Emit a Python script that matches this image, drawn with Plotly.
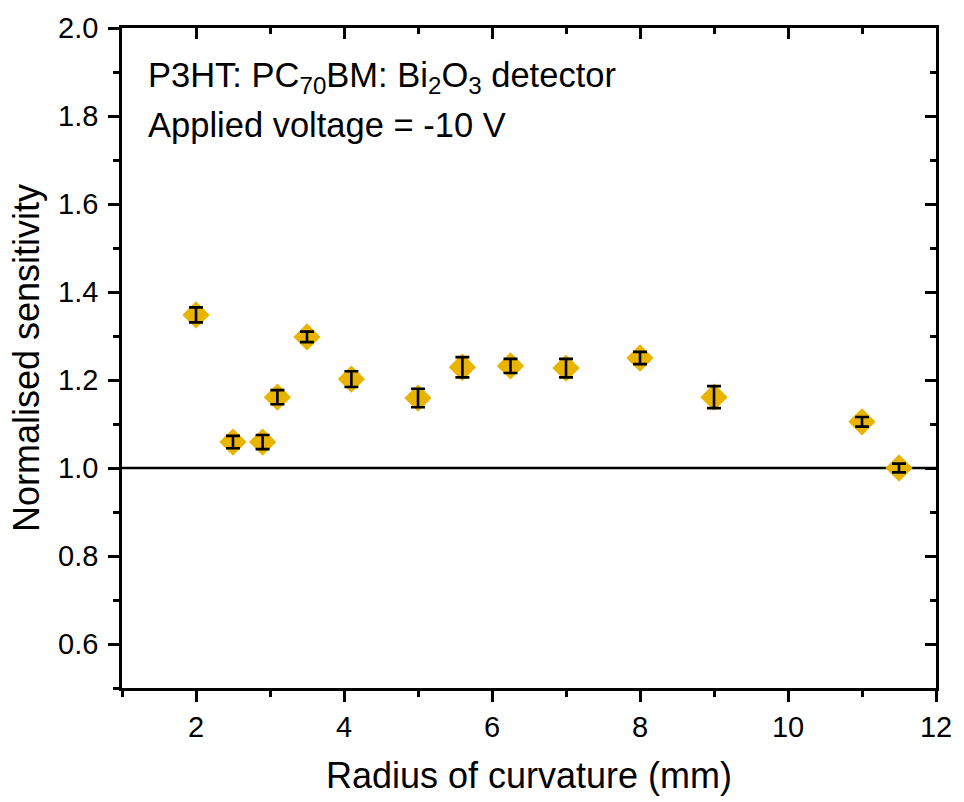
import plotly.graph_objects as go

radius = [2.0, 2.5, 2.9, 3.1, 3.5, 4.1, 5.0, 5.6, 6.25, 7.0, 8.0, 9.0, 11.0, 11.5]
sensitivity = [1.348, 1.059, 1.059, 1.161, 1.298, 1.202, 1.159, 1.229, 1.232, 1.227, 1.250, 1.161, 1.105, 1.000]
error = [0.017, 0.014, 0.016, 0.016, 0.012, 0.018, 0.021, 0.023, 0.016, 0.021, 0.014, 0.025, 0.011, 0.010]

x_ticks = [2, 4, 6, 8, 10, 12]
y_ticks = [0.6, 0.8, 1.0, 1.2, 1.4, 1.6, 1.8, 2.0]
y_tick_text = ["0.6", "0.8", "1.0", "1.2", "1.4", "1.6", "1.8", "2.0"]
x_range = [1, 12]
y_range = [0.5, 2.0]
reference_level = 1.0

FONT = "Liberation Sans, Arial, sans-serif"

fig = go.Figure()

fig.add_hline(y=reference_level, line=dict(color="black", width=2.5), layer="below")

fig.add_trace(go.Scatter(
    x=radius, y=sensitivity, mode="markers",
    marker=dict(symbol="diamond", size=21, color="#E8B400", line=dict(width=0)),
    showlegend=False, hoverinfo="skip",
))
# error bars drawn on top of the markers
fig.add_trace(go.Scatter(
    x=radius, y=sensitivity, mode="markers",
    marker=dict(size=1, opacity=0),
    error_y=dict(type="data", array=error, visible=True, color="black", thickness=2.6, width=7),
    showlegend=False, hoverinfo="skip",
))

# invisible trace to activate mirrored (top/right) axes
fig.add_trace(go.Scatter(x=x_range, y=y_range, xaxis="x2", yaxis="y2", mode="markers",
                         marker=dict(opacity=0), showlegend=False, hoverinfo="skip"))

axis_common = dict(showgrid=False, zeroline=False, showline=True, linecolor="black", linewidth=2.5,
                   tickcolor="black", tickwidth=2.5, ticklen=11)

fig.update_layout(
    width=964, height=802,
    margin=dict(l=122, r=24, t=28, b=114),
    plot_bgcolor="white", paper_bgcolor="white",
    font=dict(family=FONT, color="black"),
    xaxis=dict(range=x_range, tickvals=x_ticks, ticks="outside",
               tickfont=dict(size=29, family=FONT),
               minor=dict(dtick=1, tick0=1, ticks="outside", ticklen=6, tickwidth=2.5, tickcolor="black"),
               title=dict(text="Radius of curvature (mm)", font=dict(size=36, family=FONT), standoff=22),
               **axis_common),
    yaxis=dict(range=y_range, tickvals=y_ticks, ticktext=y_tick_text, ticks="outside",
               tickfont=dict(size=29, family=FONT), ticklabelstandoff=4,
               minor=dict(dtick=0.1, tick0=0.5, ticks="outside", ticklen=6, tickwidth=2.5, tickcolor="black"),
               title=dict(text="Normalised sensitivity", font=dict(size=36, family=FONT), standoff=8),
               **axis_common),
    xaxis2=dict(range=x_range, overlaying="x", side="top", tickvals=x_ticks, ticks="inside",
                showticklabels=False,
                minor=dict(dtick=1, tick0=1, ticks="inside", ticklen=6, tickwidth=2.5, tickcolor="black"),
                **axis_common),
    yaxis2=dict(range=y_range, overlaying="y", side="right", tickvals=y_ticks, ticks="inside",
                showticklabels=False,
                minor=dict(dtick=0.1, tick0=0.5, ticks="inside", ticklen=6, tickwidth=2.5, tickcolor="black"),
                **axis_common),
    annotations=[
        dict(text="P3HT: PC<sub>70</sub>BM: Bi<sub>2</sub>O<sub>3</sub> detector",
             xref="paper", yref="paper", x=0.03, y=0.925, xanchor="left", yanchor="middle",
             showarrow=False, font=dict(size=34.5, family=FONT)),
        dict(text="Applied voltage = -10 V",
             xref="paper", yref="paper", x=0.03, y=0.853, xanchor="left", yanchor="middle",
             showarrow=False, font=dict(size=34.5, family=FONT)),
    ],
)

fig.write_html("out.html")
